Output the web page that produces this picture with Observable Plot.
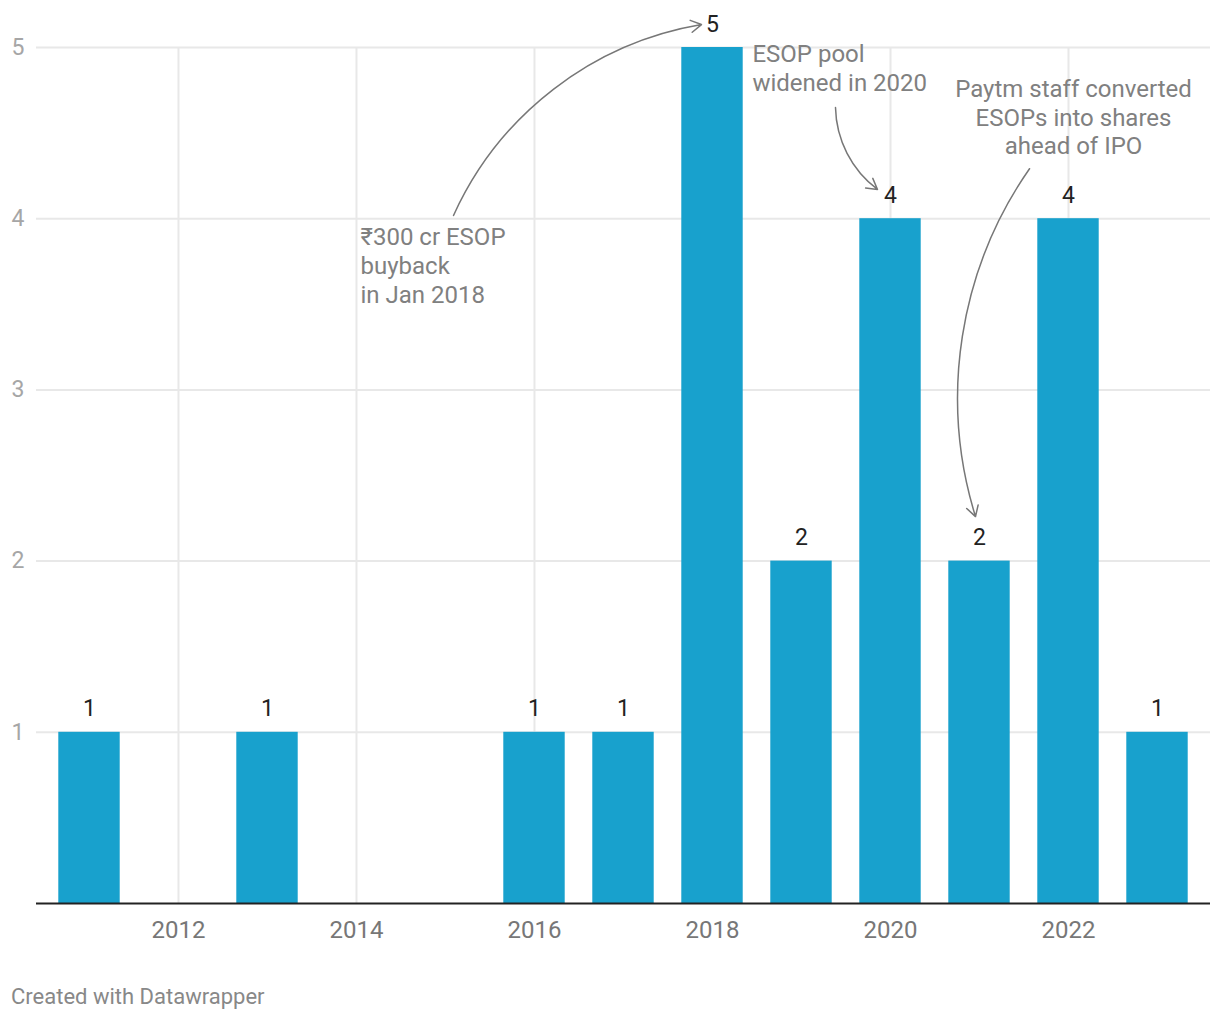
<!DOCTYPE html>
<html><head><meta charset="utf-8">
<script src="https://cdn.jsdelivr.net/npm/d3@7"></script>
<script src="https://cdn.jsdelivr.net/npm/@observablehq/plot@0.6"></script>
<style>
body{margin:0;background:#fff;font-family:Roboto,sans-serif;}
#chart{position:absolute;left:0;top:0;}
#footer{position:absolute;left:11px;top:984px;font-size:22px;color:#888;font-family:Roboto,sans-serif;}
</style></head><body>
<div id="chart"></div>
<div id="footer">Created with Datawrapper</div>
<script>
const years = [2011, 2013, 2016, 2017, 2018, 2019, 2020, 2021, 2022, 2023];
const counts = [1, 1, 1, 1, 5, 2, 4, 2, 4, 1];
const xTicks = [2012, 2014, 2016, 2018, 2020, 2022];
const yTicks = [1, 2, 3, 4, 5];
const noteTexts = ["₹300 cr ESOP\nbuyback\nin Jan 2018", "ESOP pool\nwidened in 2020", "Paytm staff converted\nESOPs into shares\nahead of IPO"];
const noteX = [2014.045, 2018.449, 2022.056];
const noteY = [3.925, 4.994, 4.790];
const noteAnchor = ["start", "start", "middle"];
const arrowFromX = [2015.09, 2019.382, 2021.562];
const arrowFromY = [4.019, 4.649, 4.292];
const arrowToX = [2017.876, 2019.854, 2020.955];
const arrowToY = [5.134, 4.171, 2.260];
const arrowBend = [28, -26, -26];

const data = years.map((y, i) => ({year: y, count: counts[i]}));
const notes = noteTexts.map((t, i) => ({text: t, x: noteX[i], y: noteY[i], anchor: noteAnchor[i]}));
const arrows = arrowBend.map((b, i) => ({x1: arrowFromX[i], y1: arrowFromY[i], x2: arrowToX[i], y2: arrowToY[i], bend: b}));

const halfBar = 0.345;
const chart = Plot.plot({
  width: 1220, height: 960,
  marginTop: 47, marginBottom: 57, marginLeft: 36, marginRight: 10,
  x: {domain: [2010.4045, 2023.5955], axis: null},
  y: {domain: [0, 5], axis: null},
  style: {fontFamily: "Roboto, sans-serif", background: "white"},
  marks: [
    Plot.ruleY(yTicks, {stroke: "#e8e8e8", strokeWidth: 2}),
    Plot.ruleX(xTicks, {stroke: "#e8e8e8", strokeWidth: 2}),
    Plot.rectY(data, {x1: d => d.year - halfBar, x2: d => d.year + halfBar, y: "count", fill: "#18a1cd"}),
    Plot.ruleY([0], {stroke: "#222", strokeWidth: 2}),
    Plot.text(yTicks, {y: d => d, text: d => String(d), frameAnchor: "left", textAnchor: "start", dx: -25, fontSize: 23, fill: "#a6a6a6", lineAnchor: "middle"}),
    Plot.text(xTicks, {x: d => d, text: d => String(d), frameAnchor: "bottom", lineAnchor: "top", dy: 17, fontSize: 24, fill: "#777"}),
    Plot.text(data, {x: "year", y: "count", text: d => String(d.count), lineAnchor: "bottom", dy: -16, fontSize: 23, fill: "#222"}),
    ...notes.map(n => Plot.text([n], {x: "x", y: "y", text: "text", textAnchor: n.anchor, lineAnchor: "top", lineHeight: 1.2, dy: -7, fontSize: 24, fill: "#808080"})),
    ...arrows.map(a => Plot.arrow([a], {x1: "x1", y1: "y1", x2: "x2", y2: "y2", bend: a.bend, stroke: "#777", strokeWidth: 1.5, headLength: 12}))
  ]
});
document.getElementById("chart").appendChild(chart);
</script>
</body></html>
